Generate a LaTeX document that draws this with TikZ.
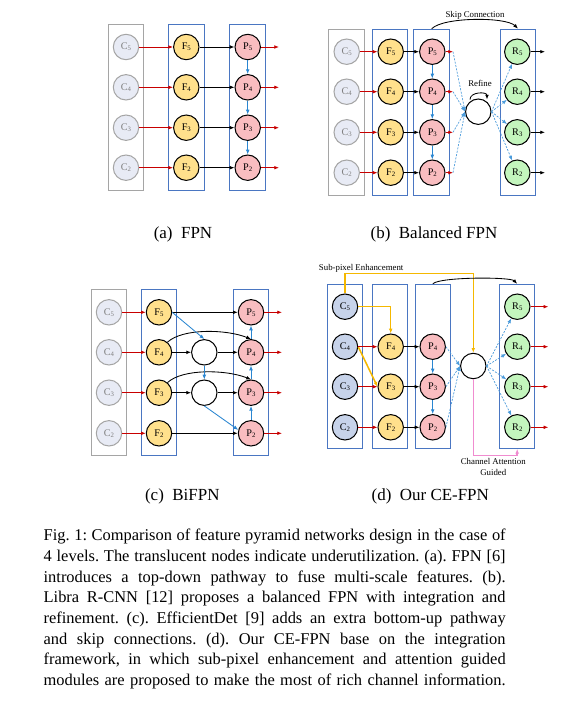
\documentclass[tikz,border=0pt]{standalone}
\usepackage{fontspec}
\setmainfont{Liberation Serif}
\usetikzlibrary{arrows.meta}
\definecolor{cfill}{HTML}{E8EBF5}
\definecolor{cdark}{HTML}{C7D3EA}
\definecolor{fyellow}{HTML}{FFE08C}
\definecolor{ppink}{HTML}{F9BDC0}
\definecolor{rgreen}{HTML}{C3F5BD}
\definecolor{boxblue}{HTML}{4A76C2}
\definecolor{boxgray}{HTML}{A5A5A5}
\definecolor{linkred}{HTML}{C80000}
\definecolor{linkblue}{HTML}{2A86D1}
\definecolor{lblue}{HTML}{4A9BDB}
\definecolor{subor}{HTML}{F5B800}
\definecolor{attpink}{HTML}{F08CD0}
\newcommand\pxu{0.59pt}
\newcommand\lvl[1]{\raisebox{-0.7pt}{\fontsize{4}{4}\selectfont#1}}
\newcommand\nodefont{\fontsize{6}{7}\selectfont}
\newcommand\capline[1]{\hbox to 272.6pt{#1}}

\begin{document}
\begin{tikzpicture}[
  x=0.59pt, y=-0.59pt,
  nd/.style={circle, draw=black, line width=0.6pt, minimum size=15pt,
             inner sep=0pt, font=\nodefont},
  cfade/.style={nd, draw=boxgray, fill=cfill, text=gray},
  cnode/.style={nd, fill=cdark},
  fnode/.style={nd, fill=fyellow},
  pnode/.style={nd, fill=ppink},
  rnode/.style={nd, fill=rgreen},
  mix/.style={nd, fill=white},
  col/.style={rectangle, draw=boxblue, line width=0.6pt, inner sep=0pt,
              minimum width=35.5*\pxu, minimum height=166*\pxu},
  gcol/.style={col, draw=boxgray},
  arr/.style={-{Latex[length=2.8pt,width=2.2pt]}, line width=0.5pt, #1},
  arr/.default=black,
  dsh/.style={arr=lblue, line width=0.4pt, dash pattern=on 1.2pt off 0.8pt},
  guide/.style={arr=#1, line width=0.9pt},
  lbl/.style={font=\fontsize{5.2}{6}\selectfont, inner sep=0pt, align=center},
  subcap/.style={font=\fontsize{10}{12}\selectfont, anchor=base, inner sep=0pt}
]
\fill[white] (0,0) rectangle (585,703);
\useasboundingbox (0,0) rectangle (585,703);

% === (a) FPN ===
\node[gcol] (aCcol) at (125.8,107.3) {};
\node[col]  (aFcol) at (186.3,107.3) {};
\node[col]  (aPcol) at (247.5,107.3) {};

\node[cfade] (aC5) at (126,47)    {C\lvl5};
\node[cfade] (aC4) at (126,87.3)  {C\lvl4};
\node[cfade] (aC3) at (126,127.7) {C\lvl3};
\node[cfade] (aC2) at (126,167.7) {C\lvl2};
\node[fnode] (aF5) at (186.3,47)    {F\lvl5};
\node[fnode] (aF4) at (186.3,87.3)  {F\lvl4};
\node[fnode] (aF3) at (186.3,127.7) {F\lvl3};
\node[fnode] (aF2) at (186.3,167.7) {F\lvl2};
\node[pnode] (aP5) at (247.7,47)    {P\lvl5};
\node[pnode] (aP4) at (247.7,87.3)  {P\lvl4};
\node[pnode] (aP3) at (247.7,127.7) {P\lvl3};
\node[pnode] (aP2) at (247.7,167.7) {P\lvl2};
\coordinate (aO5) at (279,47);
\coordinate (aO4) at (279,87.3);
\coordinate (aO3) at (279,127.7);
\coordinate (aO2) at (279,167.7);

\draw[arr=linkred] (aC5) -- (aF5);
\draw[arr=linkred] (aC4) -- (aF4);
\draw[arr=linkred] (aC3) -- (aF3);
\draw[arr=linkred] (aC2) -- (aF2);
\draw[arr] (aF5) -- (aP5);
\draw[arr] (aF4) -- (aP4);
\draw[arr] (aF3) -- (aP3);
\draw[arr] (aF2) -- (aP2);
\draw[arr=linkblue] (aP5) -- (aP4);
\draw[arr=linkblue] (aP4) -- (aP3);
\draw[arr=linkblue] (aP3) -- (aP2);
\draw[arr=linkred] (aP5) -- (aO5);
\draw[arr=linkred] (aP4) -- (aO4);
\draw[arr=linkred] (aP3) -- (aO3);
\draw[arr=linkred] (aP2) -- (aO2);

\node[subcap] (aCap) at (183,238) {(a)\enspace FPN};

% === (b) Balanced FPN ===
\node[gcol] (bCcol) at (346.3,112.2) {};
\node[col]  (bFcol) at (390,112.2) {};
\node[col]  (bPcol) at (431.7,112.2) {};
\node[col]  (bRcol) at (518,112.2) {};

\node[cfade] (bC5) at (346.7,51.7)  {C\lvl5};
\node[cfade] (bC4) at (346.7,91.7)  {C\lvl4};
\node[cfade] (bC3) at (346.7,132.3) {C\lvl3};
\node[cfade] (bC2) at (346.7,172.7) {C\lvl2};
\node[fnode] (bF5) at (390.7,51.7)  {F\lvl5};
\node[fnode] (bF4) at (390.7,91.7)  {F\lvl4};
\node[fnode] (bF3) at (390.7,132.3) {F\lvl3};
\node[fnode] (bF2) at (390.7,172.7) {F\lvl2};
\node[pnode] (bP5) at (432.3,51.7)  {P\lvl5};
\node[pnode] (bP4) at (432.3,91.7)  {P\lvl4};
\node[pnode] (bP3) at (432.3,132.3) {P\lvl3};
\node[pnode] (bP2) at (432.3,172.7) {P\lvl2};
\node[rnode] (bR5) at (517.3,51.7)  {R\lvl5};
\node[rnode] (bR4) at (517.3,91.7)  {R\lvl4};
\node[rnode] (bR3) at (517.3,132.3) {R\lvl3};
\node[rnode] (bR2) at (517.3,172.7) {R\lvl2};
\node[mix]   (bRef) at (478.3,111.7) {};
\coordinate (bT5) at (453,51.7);
\coordinate (bT4) at (453,91.7);
\coordinate (bT3) at (453,132.3);
\coordinate (bT2) at (453,172.7);
\coordinate (bO5) at (545,51.7);
\coordinate (bO4) at (545,91.7);
\coordinate (bO3) at (545,132.3);
\coordinate (bO2) at (545,172.7);
\coordinate (bLoopA) at (470,99.5);
\coordinate (bLoopB) at (487,99.5);

\draw[arr=linkred] (bC5) -- (bF5);
\draw[arr=linkred] (bC4) -- (bF4);
\draw[arr=linkred] (bC3) -- (bF3);
\draw[arr=linkred] (bC2) -- (bF2);
\draw[arr] (bF5) -- (bP5);
\draw[arr] (bF4) -- (bP4);
\draw[arr] (bF3) -- (bP3);
\draw[arr] (bF2) -- (bP2);
\draw[arr=linkblue] (bP5) -- (bP4);
\draw[arr=linkblue] (bP4) -- (bP3);
\draw[arr=linkblue] (bP3) -- (bP2);
\draw[arr=linkred] (bP5) -- (bT5);
\draw[arr=linkred] (bP4) -- (bT4);
\draw[arr=linkred] (bP3) -- (bT3);
\draw[arr=linkred] (bP2) -- (bT2);
\draw[dsh] (bT5) -- (bRef.west);
\draw[dsh] (bT4) -- (bRef.west);
\draw[dsh] (bT3) -- (bRef.west);
\draw[dsh] (bT2) -- (bRef.west);
\draw[dsh] (bRef.east) -- (bR5);
\draw[dsh] (bRef.east) -- (bR4);
\draw[dsh] (bRef.east) -- (bR3);
\draw[dsh] (bRef.east) -- (bR2);
\draw[arr] (bR5) -- (bO5);
\draw[arr] (bR4) -- (bO4);
\draw[arr] (bR3) -- (bO3);
\draw[arr] (bR2) -- (bO2);
\draw[arr] (bLoopA) to[out=90, in=90, looseness=1.2] (bLoopB);
\draw[arr] (bPcol.north) to[out=45, in=135, looseness=0.5] (bRcol.north);

\node[lbl] (bSkip) at (475,15.7) {Skip Connection};
\node[lbl] (bRefine) at (480,83.3) {Refine};
\node[subcap] (bCap) at (434,238) {(b)\enspace Balanced FPN};

% === (c) BiFPN ===
\node[gcol] (cCcol) at (109.2,372.2) {};
\node[col]  (cFcol) at (159,372.2) {};
\node[col]  (cPcol) at (251,372.2) {};

\node[cfade] (cC5) at (109,312.3) {C\lvl5};
\node[cfade] (cC4) at (109,352.3) {C\lvl4};
\node[cfade] (cC3) at (109,392.7) {C\lvl3};
\node[cfade] (cC2) at (109,433.3) {C\lvl2};
\node[fnode] (cF5) at (159,312.3) {F\lvl5};
\node[fnode] (cF4) at (159,352.3) {F\lvl4};
\node[fnode] (cF3) at (159,392.7) {F\lvl3};
\node[fnode] (cF2) at (159,433.3) {F\lvl2};
\node[mix]   (cM4) at (204.3,352.3) {};
\node[mix]   (cM3) at (204.3,392.7) {};
\node[pnode] (cP5) at (251,312.3) {P\lvl5};
\node[pnode] (cP4) at (251,352.3) {P\lvl4};
\node[pnode] (cP3) at (251,392.7) {P\lvl3};
\node[pnode] (cP2) at (251,433.3) {P\lvl2};
\coordinate (cO5) at (282,312.3);
\coordinate (cO4) at (282,352.3);
\coordinate (cO3) at (282,392.7);
\coordinate (cO2) at (282,433.3);

\draw[arr=linkred] (cC5) -- (cF5);
\draw[arr=linkred] (cC4) -- (cF4);
\draw[arr=linkred] (cC3) -- (cF3);
\draw[arr=linkred] (cC2) -- (cF2);
\draw[arr] (cF5) -- (cP5);
\draw[arr] (cF4) -- (cM4);
\draw[arr] (cM4) -- (cP4);
\draw[arr] (cF3) -- (cM3);
\draw[arr] (cM3) -- (cP3);
\draw[arr] (cF2) -- (cP2);
\draw[arr] (cF4.50) .. controls +(15,-14) and +(-25,-10) .. (cP4.north);
\draw[arr] (cF3.50) .. controls +(15,-14) and +(-25,-10) .. (cP3.north);
\draw[arr=linkblue] (cF5.east) -- (cM4.north);
\draw[arr=linkblue] (cM4) -- (cM3);
\draw[arr=linkblue] (cM3.south) -- (cP2.165);
\draw[arr=linkblue] (cP2) -- (cP3);
\draw[arr=linkblue] (cP3) -- (cP4);
\draw[arr=linkblue] (cP4) -- (cP5);
\draw[arr=linkred] (cP5) -- (cO5);
\draw[arr=linkred] (cP4) -- (cO4);
\draw[arr=linkred] (cP3) -- (cO3);
\draw[arr=linkred] (cP2) -- (cO2);

\node[subcap] (cCap) at (182.3,500.7) {(c)\enspace BiFPN};

% === (d) Our CE-FPN ===
\node[col, minimum height=164*\pxu] (dCcol) at (345,366.3) {};
\node[col, minimum height=164*\pxu] (dFcol) at (390,366.3) {};
\node[col, minimum height=164*\pxu] (dPcol) at (432.8,366.3) {};
\node[col, minimum height=164*\pxu] (dRcol) at (517.2,366.3) {};

\node[cnode] (dC5) at (345,306.7) {C\lvl5};
\node[cnode] (dC4) at (345,346.7) {C\lvl4};
\node[cnode] (dC3) at (345,386.7) {C\lvl3};
\node[cnode] (dC2) at (345,427.3) {C\lvl2};
\node[fnode] (dF4) at (390.7,346.7) {F\lvl4};
\node[fnode] (dF3) at (390.7,386.7) {F\lvl3};
\node[fnode] (dF2) at (390.7,427.3) {F\lvl2};
\node[pnode] (dP4) at (432.7,346.7) {P\lvl4};
\node[pnode] (dP3) at (432.7,386.7) {P\lvl3};
\node[pnode] (dP2) at (432.7,427.3) {P\lvl2};
\node[mix]   (dMix) at (473.3,366) {};
\node[rnode] (dR5) at (517.3,306.7) {R\lvl5};
\node[rnode] (dR4) at (517.3,346.7) {R\lvl4};
\node[rnode] (dR3) at (517.3,386.7) {R\lvl3};
\node[rnode] (dR2) at (517.3,427.3) {R\lvl2};
\coordinate (dO5) at (548.3,306.7);
\coordinate (dO4) at (548.3,346.7);
\coordinate (dO3) at (548.3,386.7);
\coordinate (dO2) at (548.3,427.3);
\coordinate (dTurn) at (345,273.3);
\coordinate (dBend) at (473.3,455.5);

% sub-pixel enhancement (orange)
\draw[guide=subor] (dC5.north) -- (dTurn) -| (dMix.north);
\draw[guide=subor] (dC5.east) -| (dF4.north);
\draw[guide=subor] (dC4.east) -- (dF3.west);

\draw[arr=linkred] (dC4) -- (dF4);
\draw[arr=linkred] (dC3) -- (dF3);
\draw[arr=linkred] (dC2) -- (dF2);
\draw[arr] (dF4) -- (dP4);
\draw[arr] (dF3) -- (dP3);
\draw[arr] (dF2) -- (dP2);
\draw[arr=linkblue] (dP4) -- (dP3);
\draw[arr=linkblue] (dP3) -- (dP2);
\draw[dsh] (dP4.east) -- (dMix.west);
\draw[dsh] (dP3.east) -- (dMix.west);
\draw[dsh] (dP2.east) -- (dMix.west);
\draw[dsh] (dMix.east) -- (dR5);
\draw[dsh] (dMix.east) -- (dR4);
\draw[dsh] (dMix.east) -- (dR3);
\draw[dsh] (dMix.east) -- (dR2);
\draw[arr=linkred] (dR5) -- (dO5);
\draw[arr=linkred] (dR4) -- (dO4);
\draw[arr=linkred] (dR3) -- (dO3);
\draw[arr=linkred] (dR2) -- (dO2);
\draw[arr] (dPcol.north) to[out=45, in=135, looseness=0.3] (dRcol.north);
% channel attention guided (pink)
\draw[guide=attpink] (dMix.south) -- (dBend) -| (dRcol.south);

\node[lbl] (dSub) at (361.2,268.3) {Sub-pixel Enhancement};
\node[lbl] (dAtt) at (493.3,467.3) {Channel Attention\\[0.3pt]Guided};
\node[subcap] (dCap) at (430.3,500.7) {(d)\enspace Our CE-FPN};

% === Caption ===
\node[anchor=base west, inner sep=0pt, text width=462*\pxu, align=left,
      font=\fontsize{9.7}{12.2}\selectfont] (cap) at (43.3,540.7)
  {\frenchspacing\spaceskip=0.25em plus 0.3em minus 0.12em
   \capline{Fig.~1: Comparison of feature pyramid networks design in the case of}
   \capline{4 levels. The translucent nodes indicate underutilization. (a). FPN [6]}
   \capline{introduces a top-down pathway to fuse multi-scale features. (b).}
   \capline{Libra R-CNN [12] proposes a balanced FPN with integration and}
   \capline{refinement. (c). EfficientDet [9] adds an extra bottom-up pathway}
   \capline{and skip connections. (d). Our CE-FPN base on the integration}
   \capline{framework, in which sub-pixel enhancement and attention guided}
   \capline{modules are proposed to make the most of rich channel information.}};

\end{tikzpicture}
\end{document}
